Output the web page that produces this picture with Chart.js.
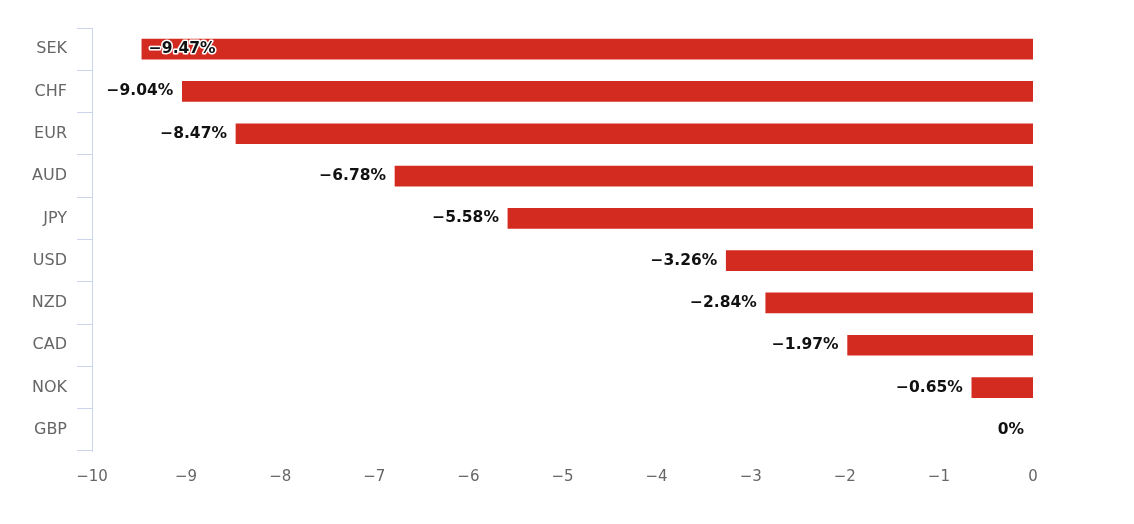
<!DOCTYPE html>
<html>
<head>
<meta charset="utf-8">
<script src="https://cdn.jsdelivr.net/npm/chart.js@4.4.1/dist/chart.umd.min.js"></script>
<style>
  html, body { margin: 0; padding: 0; background: #fff; }
  #wrap { width: 1134px; height: 524px; position: relative; }
</style>
</head>
<body>
<div id="wrap"><canvas id="fxChart"></canvas></div>
<script>
const currencies = ['SEK', 'CHF', 'EUR', 'AUD', 'JPY', 'USD', 'NZD', 'CAD', 'NOK', 'GBP'];
const changes = [-9.47, -9.04, -8.47, -6.78, -5.58, -3.26, -2.84, -1.97, -0.65, 0];
const xMin = -10;
const xMax = 0;

const BAR_COLOR = '#d42b21';
const AXIS_COLOR = '#ccd6eb';
const LABEL_COLOR = '#666666';

const fmtMinus = v => String(v).replace('-', '\u2212');

// value labels at the left end of each bar, white outline like the original
const barLabels = {
  id: 'barLabels',
  afterDatasetsDraw(chart) {
    const { ctx, chartArea } = chart;
    const meta = chart.getDatasetMeta(0);
    ctx.save();
    ctx.font = 'bold 15.5px "DejaVu Sans", sans-serif';
    ctx.textBaseline = 'middle';
    ctx.lineJoin = 'round';
    meta.data.forEach((bar, i) => {
      const text = fmtMinus(changes[i]) + '%';
      const w = ctx.measureText(text).width;
      let x = bar.x - 9;
      ctx.textAlign = 'right';
      if (x - w < chartArea.left) {
        // no room outside the plot, put it inside the bar
        x = bar.x + 7;
        ctx.textAlign = 'left';
      }
      ctx.strokeStyle = '#ffffff';
      ctx.lineWidth = 3;
      ctx.strokeText(text, x, bar.y);
      ctx.fillStyle = '#111111';
      ctx.fillText(text, x, bar.y);
    });
    ctx.restore();
  }
};

new Chart(document.getElementById('fxChart'), {
  type: 'bar',
  data: {
    labels: currencies,
    datasets: [{
      data: changes,
      backgroundColor: c => (c.raw === 0 ? 'rgba(0,0,0,0)' : BAR_COLOR),
      borderWidth: 0,
      barThickness: 20
    }]
  },
  options: {
    indexAxis: 'y',
    responsive: true,
    maintainAspectRatio: false,
    animation: false,
    layout: { padding: { top: 28, right: 101, left: 0, bottom: 0 } },
    plugins: {
      legend: { display: false },
      tooltip: { enabled: false }
    },
    scales: {
      x: {
        min: xMin,
        max: xMax,
        grid: { display: false, drawTicks: false },
        border: { display: false },
        ticks: {
          stepSize: 1,
          padding: 17,
          color: LABEL_COLOR,
          font: { family: '"DejaVu Sans", sans-serif', size: 15 },
          callback: v => fmtMinus(v)
        },
        afterFit: s => { s.height = 73; }
      },
      y: {
        offset: true,
        grid: {
          offset: true,
          drawOnChartArea: false,
          tickLength: 15,
          color: AXIS_COLOR,
          lineWidth: 1
        },
        border: { display: true, color: AXIS_COLOR, width: 1 },
        ticks: {
          padding: 10,
          color: LABEL_COLOR,
          font: { family: '"DejaVu Sans", sans-serif', size: 16 }
        },
        afterFit: s => { s.width = 92; }
      }
    }
  },
  plugins: [barLabels]
});
</script>
</body>
</html>
